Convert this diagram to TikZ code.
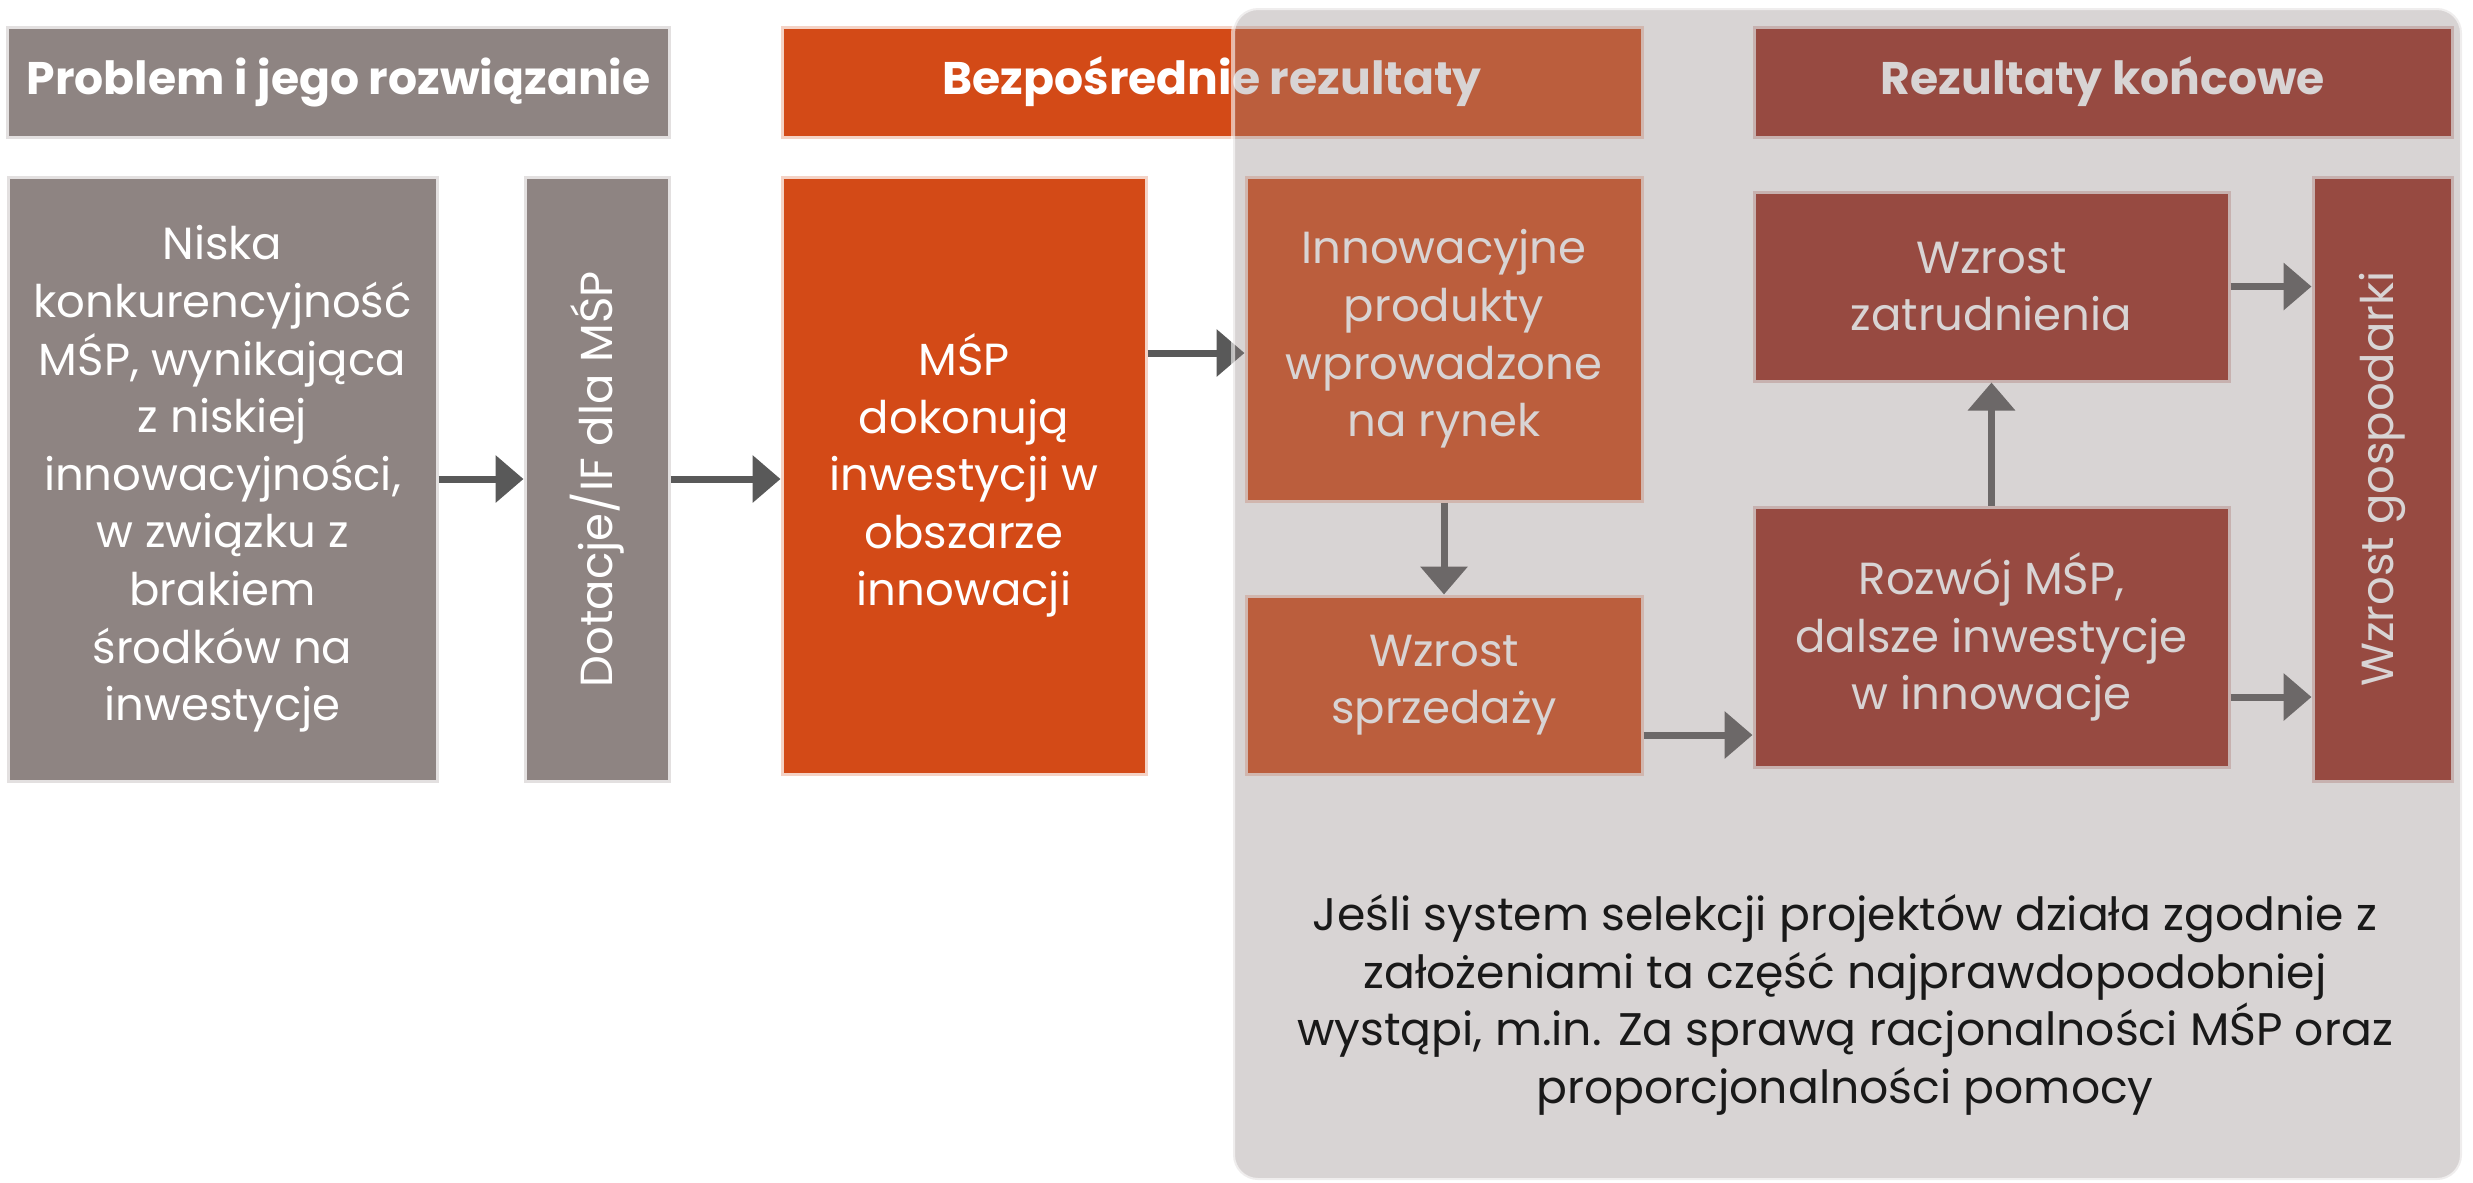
\documentclass[tikz,border=0pt]{standalone}
\usepackage{fontspec}
\setmainfont{Poppins}
\usetikzlibrary{arrows.meta}
\definecolor{taupe}{HTML}{8E8482}
\definecolor{rust}{HTML}{D34A17}
\definecolor{brick}{HTML}{9B2B1E}
\definecolor{veil}{RGB}{144,132,132}
\definecolor{darrow}{HTML}{595959}

\begin{document}
\begin{tikzpicture}[
  box/.style={inner sep=0pt, align=center, text=white, line width=0.03cm,
    font=\fontsize{12.8}{16.4}\selectfont},
  greybox/.style={box, fill=taupe, draw=taupe!25},
  rustbox/.style={box, fill=rust, draw=rust!25},
  brickbox/.style={box, fill=brick, draw=brick!25},
  head/.style={font=\bfseries\fontsize{13}{15}\selectfont, minimum height=1.1cm},
  arr/.style={darrow, line width=0.07cm, -{Triangle[length=2.8mm,width=4.6mm]}}
]
  \useasboundingbox (0,0) rectangle (24.73,-11.82);
  \node[greybox, head, minimum width=6.61cm] (probhead) at (3.385,-0.82) {Problem i jego rozwiązanie};
  \node[rustbox, head, minimum width=8.60cm] (directhead) at (12.12,-0.82) {Bezpośrednie rezultaty};
  \node[brickbox, head, minimum width=6.98cm] (finalhead) at (21.03,-0.82) {Rezultaty końcowe};

  \node[greybox, minimum width=4.29cm, minimum height=6.04cm] (problem) at (2.225,-4.79)
    {Niska\\konkurencyjność\\MŚP, wynikająca\\z niskiej\\innowacyjności,\\w związku z\\brakiem\\środków na\\inwestycje};
  \node[greybox, rotate=90, minimum width=6.04cm, minimum height=1.44cm] (grant) at (5.97,-4.79) {Dotacje/IF dla MŚP};
  \node[rustbox, minimum width=3.64cm, minimum height=5.97cm] (invest) at (9.64,-4.755)
    {MŚP\\dokonują\\inwestycji w\\obszarze\\innowacji};
  \node[rustbox, minimum width=3.96cm, minimum height=3.24cm] (products) at (14.44,-3.39)
    {Innowacyjne\\produkty\\wprowadzone\\na rynek};
  \node[rustbox, minimum width=3.96cm, minimum height=1.78cm] (sales) at (14.44,-6.85) {Wzrost\\sprzedaży};
  \node[brickbox, minimum width=4.75cm, minimum height=1.89cm] (jobs) at (19.915,-2.865) {Wzrost\\zatrudnienia};
  \node[brickbox, minimum width=4.75cm, minimum height=2.60cm] (growth) at (19.915,-6.37)
    {Rozwój MŚP,\\dalsze inwestycje\\w innowacje};
  \node[brickbox, rotate=90, minimum width=6.04cm, minimum height=1.39cm] (economy) at (23.825,-4.79) {Wzrost gospodarki};

  \draw[arr] (problem.east) -- (grant.north);
  \draw[arr] (grant.south) -- (grant.south -| invest.west);
  \draw[arr] (invest.east |- 0,-3.53) -- (products.west |- 0,-3.53);
  \draw[arr] (products.south) -- (sales.north);
  \draw[arr] (sales.east |- 0,-7.35) -- (growth.west |- 0,-7.35);
  \draw[arr] (growth.north) -- (jobs.south);
  \draw[arr] (jobs.east) -- (jobs.east -| economy.north);
  \draw[arr] (growth.east |- 0,-6.97) -- (economy.north |- 0,-6.97);

  \fill[veil, fill opacity=0.35, rounded corners=0.25cm] (12.33,-0.08) rectangle (24.62,-11.80);
  \draw[white, opacity=0.6, line width=0.04cm, rounded corners=0.25cm] (12.33,-0.08) rectangle (24.62,-11.80);

  \node[align=center, text=black!90, font=\fontsize{13}{16.4}\selectfont] (note) at (18.45,-10.05)
    {Jeśli system selekcji projektów działa zgodnie z\\założeniami ta część najprawdopodobniej\\wystąpi, m.in. Za sprawą racjonalności MŚP oraz\\proporcjonalności pomocy};
\end{tikzpicture}
\end{document}
